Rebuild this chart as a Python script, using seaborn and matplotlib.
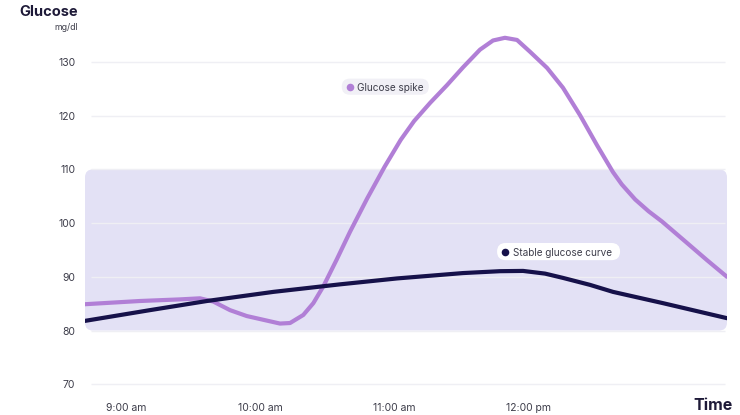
import matplotlib
matplotlib.use("Agg")
import matplotlib.pyplot as plt
from matplotlib.patches import FancyBboxPatch
import pandas as pd
import seaborn as sns

# Time of day in decimal hours and glucose readings (mg/dl)
spike_time = [8.694, 9.104, 9.403, 9.552, 9.651, 9.776, 9.901, 10.025, 10.149,
              10.224, 10.323, 10.398, 10.472, 10.572, 10.672, 10.80, 10.93,
              11.05, 11.15, 11.27, 11.396, 11.515, 11.642, 11.739, 11.828, 11.918,
              12.015, 12.142, 12.261, 12.388, 12.515, 12.634, 12.70, 12.80,
              12.90, 13.0, 13.187, 13.336, 13.485]
spike_glucose = [84.9, 85.5, 85.8, 86.0, 85.4, 83.8, 82.7, 82.0, 81.3,
                 81.4, 82.9, 85.1, 88.2, 93.2, 98.4, 104.6, 110.5,
                 115.5, 119.0, 122.4, 125.7, 129.0, 132.3, 134.0, 134.5, 134.1,
                 131.9, 128.9, 125.2, 120.1, 114.5, 109.5, 107.2, 104.4,
                 102.2, 100.3, 96.3, 93.1, 90.0]

stable_time = [8.694, 9.179, 9.604, 10.1, 10.597, 11.022, 11.515, 11.791,
               11.963, 12.127, 12.261, 12.463, 12.634, 13.007, 13.485]
stable_glucose = [81.8, 83.8, 85.5, 87.2, 88.6, 89.7, 90.7, 91.05,
                  91.1, 90.6, 89.8, 88.5, 87.2, 85.1, 82.3]

tick_hours = [9, 10, 11, 12]
tick_labels = ["9:00 am", "10:00 am", "11:00 am", "12:00 pm"]
y_ticks = [70, 80, 90, 100, 110, 120, 130]
target_range = (80, 110)

series_names = ["Glucose spike", "Stable glucose curve"]

spike_df = pd.DataFrame({"time": spike_time, "glucose": spike_glucose})
stable_df = pd.DataFrame({"time": stable_time, "glucose": stable_glucose})

sns.set_theme(style="white")
plt.rcParams["font.family"] = ["Inter", "DejaVu Sans"]

PURPLE = "#b17fd6"
NAVY = "#16114a"
BAND = "#e3e1f5"
GRID = "#efeff4"
TEXT = "#3d3d4a"

fig = plt.figure(figsize=(7.4, 4.15), dpi=100)
ax = fig.add_axes([85 / 740, 1 - 395 / 415, (727 - 85) / 740, (395 - 19) / 415])

x0, x1 = 8.694, 13.485
ax.set_xlim(x0, x1)
ax.set_ylim(68, 138)

# pixels per data unit, used for rounded shapes
px_x = (727 - 85) / (x1 - x0)
px_y = (395 - 19) / 70.0
aspect = px_x / px_y

# target range band with rounded corners
band = FancyBboxPatch((x0, target_range[0]), x1 - x0, target_range[1] - target_range[0],
                      boxstyle=f"round,pad=0,rounding_size={8 / px_x}",
                      mutation_aspect=aspect, facecolor=BAND, edgecolor="none",
                      zorder=0)
ax.add_patch(band)

# horizontal gridlines
for yv in y_ticks:
    ax.plot([x0 + 6 / px_x, x1 - 2 / px_x], [yv, yv], color=GRID, lw=1.0, zorder=1,
            solid_capstyle="butt")

sns.lineplot(data=spike_df, x="time", y="glucose", ax=ax, color=PURPLE, lw=3.0,
             estimator=None, sort=False, zorder=3)
sns.lineplot(data=stable_df, x="time", y="glucose", ax=ax, color=NAVY, lw=3.0,
             estimator=None, sort=False, zorder=4)
for ln in ax.lines[-2:]:
    ln.set_solid_capstyle("round")
    ln.set_solid_joinstyle("round")


def pill(xl, xr, yb, yt, dot_x, text_x, label, dot_color, face):
    h = yt - yb
    patch = FancyBboxPatch((xl, yb), xr - xl, h,
                           boxstyle=f"round,pad=0,rounding_size={(h * px_y / 2) / px_x}",
                           mutation_aspect=aspect, facecolor=face, edgecolor="none",
                           zorder=5)
    ax.add_patch(patch)
    yc = (yb + yt) / 2
    ax.scatter([dot_x], [yc], s=30, color=dot_color, zorder=6, linewidths=0)
    ax.text(text_x, yc, label, fontsize=7.2, color=TEXT, ha="left", va="center_baseline",
            zorder=6)


pill(10.61, 11.26, 123.9, 126.9, 10.672, 10.724, series_names[0], PURPLE, "#f1f0f6")
pill(11.769, 12.687, 93.1, 96.3, 11.829, 11.888, series_names[1], NAVY, "#ffffff")

ax.set_xticks(tick_hours)
ax.set_xticklabels(tick_labels)
ax.set_yticks(y_ticks)
ax.set_yticklabels([str(v) for v in y_ticks])
ax.tick_params(axis="both", length=0, labelsize=7.5, labelcolor=TEXT)
ax.tick_params(axis="x", pad=6)
ax.tick_params(axis="y", pad=7)
ax.set_xlabel("")
ax.set_ylabel("")
ax.grid(False)
for s in ax.spines.values():
    s.set_visible(False)

fig.text(78 / 740, 1 - 12 / 415, "Glucose", fontsize=10.5, fontweight="bold",
         color="#1e1a38", ha="right", va="center")
fig.text(78 / 740, 1 - 28 / 415, "mg/dl", fontsize=6.3, color=TEXT, ha="right",
         va="center")
fig.text(733 / 740, 1 - 405 / 415, "Time", fontsize=11.5, fontweight="bold",
         color="#1e1a38", ha="right", va="center")

fig.savefig("out.png", dpi=100, facecolor="white")
